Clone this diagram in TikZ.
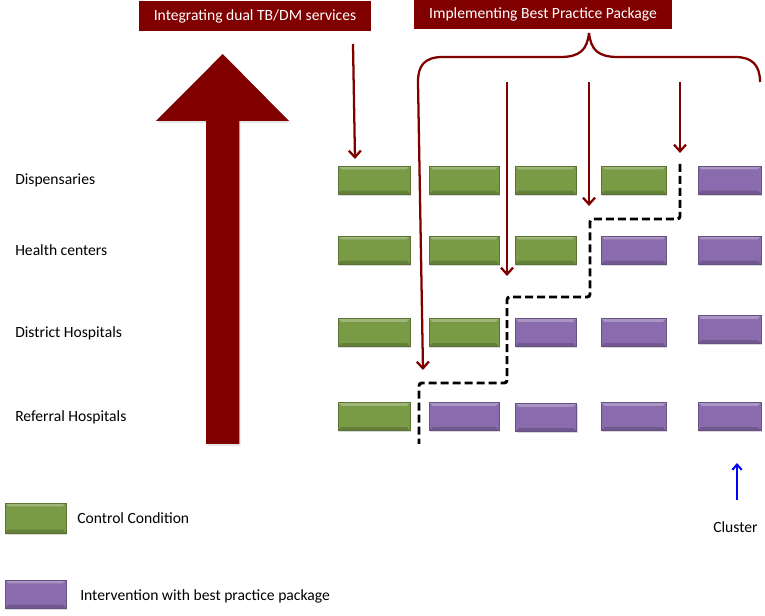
\documentclass[tikz,border=0pt]{standalone}
\usepackage{fontspec}
\setmainfont{Carlito}
\usepackage{xcolor}
\usetikzlibrary{arrows.meta,positioning,shadows}
\definecolor{tbred}{HTML}{800000}
\definecolor{ctrlgreen}{HTML}{7A9B46}
\definecolor{intvpurple}{HTML}{8A6CAE}
\newcommand{\lblfont}{\fontsize{11.7}{14}\selectfont}
\tikzset{
  cell/.style={rectangle, minimum height=21pt, inner sep=0pt, line width=0.5pt,
    drop shadow={opacity=0.3, shadow xshift=0.8pt, shadow yshift=-1.2pt},
    path picture={
      \fill[white,opacity=0.28] (path picture bounding box.north west) -- (path picture bounding box.north east)
        -- ([shift={(-2.5pt,-2.5pt)}]path picture bounding box.north east) -- ([shift={(2.5pt,-2.5pt)}]path picture bounding box.north west) -- cycle;
      \fill[black,opacity=0.18] (path picture bounding box.south west) -- (path picture bounding box.south east)
        -- ([shift={(-2.5pt,2.5pt)}]path picture bounding box.south east) -- ([shift={(2.5pt,2.5pt)}]path picture bounding box.south west) -- cycle;}},
  ctrl/.style={cell, fill=ctrlgreen, draw=ctrlgreen!75!black},
  intv/.style={cell, fill=intvpurple, draw=intvpurple!75!black},
  c1/.style={minimum width=54pt},
  c2/.style={minimum width=52.5pt},
  c3/.style={minimum width=45.75pt},
  c4/.style={minimum width=48.75pt},
  c5/.style={minimum width=47.25pt},
  titlebox/.style={rectangle, fill=tbred, text=white, inner sep=0pt, font=\lblfont},
  rowlabel/.style={anchor=base west, inner sep=0pt, font=\lblfont},
  pkgarrow/.style={tbred, line width=1.7pt, -{Straight Barb[length=5pt,width=9pt]}},
  stair/.style={black, line width=2.2pt, dash pattern=on 6pt off 3pt, rounded corners=2pt},
}

\begin{document}
\begin{tikzpicture}[x=0.75pt,y=-0.75pt]
    \useasboundingbox (0,0) rectangle (765,616);

    % Headers
    \node[titlebox, minimum width=174pt, minimum height=22.5pt] (dual) at (255,16) {Integrating dual TB/DM services};
    \node[titlebox, minimum width=193.5pt, minimum height=21.75pt] (pkg) at (543,14.5) {Implementing Best Practice Package};

    % Big arrow
    \fill[tbred, drop shadow={opacity=0.2, shadow xshift=1pt, shadow yshift=-1.5pt}]
        (206,444) -- (206,121) -- (156,121) -- (222.7,54) -- (289,121) -- (239.3,121) -- (239.3,444) -- cycle;

    % Row labels
    \node[rowlabel] (disp) at (15,185) {Dispensaries};
    \node[rowlabel] (hc) at (15,256) {Health centers};
    \node[rowlabel] (dh) at (15,338) {District Hospitals};
    \node[rowlabel] (rh) at (15,422) {Referral Hospitals};

    % Dispensaries
    \node[ctrl,c1] (d1) at (374,180) {};
    \node[ctrl,c2] (d2) at (464,180) {};
    \node[ctrl,c3] (d3) at (545.5,180) {};
    \node[ctrl,c4] (d4) at (633.5,180) {};
    \node[intv,c5] (d5) at (729.5,180) {};
    % Health centers
    \node[ctrl,c1] (h1) at (374,250) {};
    \node[ctrl,c2] (h2) at (464,250) {};
    \node[ctrl,c3] (h3) at (545.5,250) {};
    \node[intv,c4] (h4) at (633.5,250) {};
    \node[intv,c5] (h5) at (729.5,250) {};
    % District hospitals
    \node[ctrl,c1] (t1) at (374,332.5) {};
    \node[ctrl,c2] (t2) at (464,332.5) {};
    \node[intv,c3] (t3) at (545.5,332.5) {};
    \node[intv,c4] (t4) at (633.5,332.5) {};
    \node[intv,c5] (t5) at (729.5,329.5) {};
    % Referral hospitals
    \node[ctrl,c1] (r1) at (374,416.5) {};
    \node[intv,c2] (r2) at (464,416.5) {};
    \node[intv,c3] (r3) at (546,417.5) {};
    \node[intv,c4] (r4) at (633.5,416.5) {};
    \node[intv,c5] (r5) at (729.5,416.5) {};

    % Brace
    \coordinate (bl) at (418,82);
    \coordinate (bm) at (589,33);
    \coordinate (br) at (760,82);
    \draw[tbred, line width=1.7pt] (bm) .. controls (591,50) and (598,57) .. (618,57) -- (735,57)
        .. controls (752,57) and (760,65) .. (br);
    \draw[pkgarrow] (bm) .. controls (587,50) and (580,57) .. (560,57) -- (443,57)
        .. controls (424,57) and (418,66) .. (bl) -- (423,370);

    % Arrows
    \coordinate (a0) at (353,44);
    \coordinate (a1) at (355,159);
    \draw[pkgarrow] (a0) -- (a1);
    \draw[pkgarrow] (507,82) -- (507,276);
    \draw[pkgarrow] (589,82) -- (589,206);
    \draw[pkgarrow] (680,82) -- (680,153);

    % Step line
    \draw[stair] (680,164) -- (680,219) -- (590,219) -- (590,297) -- (507,297)
        -- (507,383) -- (419,383) -- (419,444);

    % Cluster
    \coordinate (cl0) at (737,500);
    \coordinate (cl1) at (737,463);
    \draw[blue, line width=1.5pt, -{Straight Barb[length=4pt,width=7pt]}] (cl0) -- (cl1);
    \node[rowlabel] (cluster) at (713,533) {Cluster};

    % Legend
    \node[ctrl, minimum width=45.75pt, minimum height=22.5pt] (lg1) at (35.5,518) {};
    \node[rowlabel] (lgt1) at (77,524) {Control Condition};
    \node[intv, minimum width=45.75pt] (lg2) at (35.5,594) {};
    \node[rowlabel] (lgt2) at (80,601) {Intervention with best practice package};
\end{tikzpicture}
\end{document}
